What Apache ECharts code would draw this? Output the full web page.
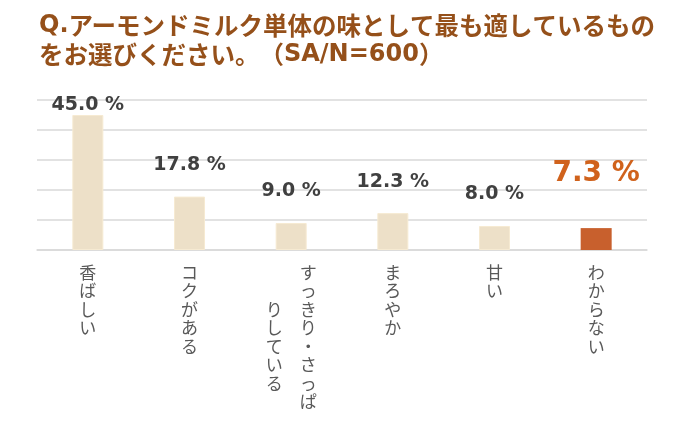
<!DOCTYPE html>
<html>
<head>
<meta charset="utf-8">
<script src="https://cdn.jsdelivr.net/npm/echarts@6/dist/echarts.min.js"></script>
<style>html,body{margin:0;padding:0;background:#fff}#c{width:700px;height:425px}</style>
</head>
<body>
<div id="c"></div>
<script>
const titleLine1 = ['Q.', 'アーモンドミルク単体の味として最も適しているもの'];
const titleLine2 = ['をお選びください。', '（', 'SA/N=600', '）'];
const categories = ['香ばしい', 'コクがある', 'すっきり・さっぱ\nりしている', 'まろやか', '甘い', 'わからない'];
const values = [45.0, 17.8, 9.0, 12.3, 8.0, 7.3];
const highlightIndex = 5;
const yTicks = [0, 10, 20, 30, 40, 50];

const labelDist = [0, 22, 22, 22, 22, 40];

function vertical(s) {
  const cols = s.split('\n');
  if (cols.length === 1) return Array.from(cols[0]).join('\n');
  const right = Array.from(cols[0]);
  const left = Array.from(cols[1]);
  const off = Math.round((right.length - left.length) / 2);
  const rows = [];
  for (let i = 0; i < right.length; i++) {
    const l = left[i - off] || '\u3000';
    rows.push(l + '\u3000' + right[i]);
  }
  return rows.join('\n');
}

const TITLE_COLOR = '#95501a';
const titleText =
  '{l|' + titleLine1[0] + '}{j|' + titleLine1[1] + '}\n' +
  '{j|' + titleLine2[0] + '}{jp|' + titleLine2[1] + '}{l|' + titleLine2[2] + '}{j|' + titleLine2[3] + '}';

const chart = echarts.init(document.getElementById('c'), null, {renderer: 'canvas'});
chart.setOption({
  animation: false,
  backgroundColor: '#ffffff',
  title: {
    text: titleText,
    left: 34, top: 6,
    textStyle: {
      fontFamily: 'Noto Sans CJK JP', fontSize: 24.5, fontWeight: 'bold',
      color: TITLE_COLOR, lineHeight: 29,
      rich: {
        l: {fontFamily: 'DejaVu Sans', fontWeight: 'bold', fontSize: 24, color: TITLE_COLOR, lineHeight: 29},
        j: {fontFamily: 'Noto Sans CJK JP', fontWeight: 'bold', fontSize: 24.5, color: TITLE_COLOR, lineHeight: 29},
        jp: {fontFamily: 'Noto Sans CJK JP', fontWeight: 'bold', fontSize: 24.5, color: TITLE_COLOR, lineHeight: 29, padding: [0, 0, 0, 0]}
      }
    }
  },
  grid: {left: 37, right: 53, top: 100, bottom: 175, containLabel: false},
  xAxis: {
    type: 'category',
    data: categories,
    axisTick: {show: false},
    axisLine: {lineStyle: {color: '#d9d9d9', width: 1.5}},
    axisLabel: {
      interval: 0,
      margin: 13,
      formatter: vertical,
      fontFamily: 'Noto Sans CJK JP',
      fontSize: 17,
      lineHeight: 18.5,
      color: '#595959',
      align: 'center',
      verticalAlign: 'top'
    }
  },
  yAxis: {
    type: 'value',
    min: yTicks[0], max: yTicks[yTicks.length - 1], interval: 10,
    axisLabel: {show: false},
    axisLine: {show: false},
    axisTick: {show: false},
    splitLine: {lineStyle: {color: '#d9d9d9', width: 1.5}}
  },
  series: [{
    type: 'bar',
    barWidth: 31,
    data: values.map((v, i) => ({
      value: v,
      itemStyle: i === highlightIndex
        ? {color: '#c8602d', borderColor: '#c8602d', borderWidth: 0}
        : {color: '#ede0c8', borderColor: '#f6ead2', borderWidth: 1},
      label: i === highlightIndex
        ? {fontSize: 28, color: '#d0621c', distance: labelDist[i]}
        : {distance: labelDist[i]}
    })),
    label: {
      show: true,
      position: 'top',
      formatter: p => p.value.toFixed(1) + ' %',
      fontFamily: 'DejaVu Sans',
      fontWeight: 'bold',
      fontSize: 19,
      color: '#404040'
    }
  }]
});
</script>
</body>
</html>
